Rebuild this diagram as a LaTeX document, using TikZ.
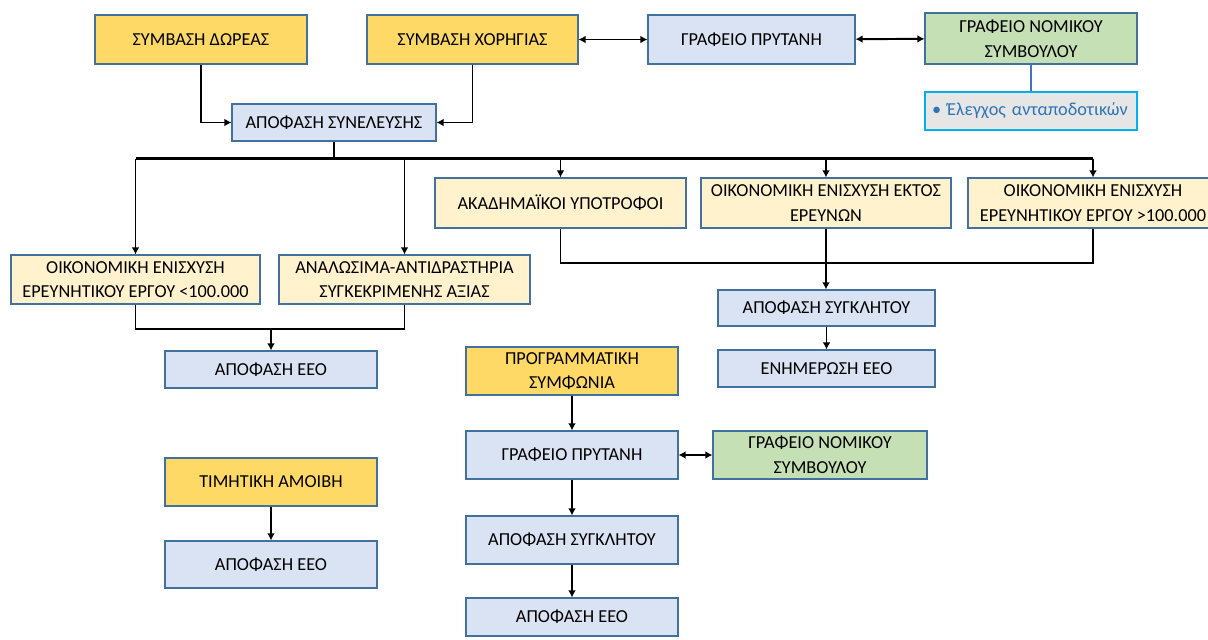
\documentclass[tikz,border=0pt]{standalone}
\usepackage{fontspec}
\setmainfont{Carlito}
\usetikzlibrary{arrows.meta,calc}
\definecolor{gold}{HTML}{FFD966}
\definecolor{paleblue}{HTML}{DAE3F3}
\definecolor{paleyellow}{HTML}{FFF2CC}
\definecolor{palegreen}{HTML}{C5E0B4}
\definecolor{rim}{HTML}{41719C}
\definecolor{cyanrim}{HTML}{00B0F0}
\definecolor{linkblue}{HTML}{4472C4}
\definecolor{notegrey}{HTML}{E7E6E6}
\definecolor{notetext}{HTML}{2E75B6}

\begin{document}
\begin{tikzpicture}[x=0.025cm,y=-0.025cm]

    \tikzset{
      box/.style 2 args={
        draw=rim,
        line width=0.8pt,
        align=center,
        inner sep=0pt,
        font=\fontsize{13}{17.5}\selectfont,
        minimum width=#1*0.025cm,
        minimum height=#2*0.025cm,
      },
      conn/.style={line width=1.4pt},
      arr/.style={conn,-{Latex[length=5pt,width=5.5pt]}},
      twoway/.style={conn,{Latex[length=5pt,width=5.5pt]}-{Latex[length=5pt,width=5.5pt]}},
    }
    \useasboundingbox (0,0) rectangle (1208,639);
    \clip (0,0) rectangle (1208,639);

    % top row
    \node[box={212}{49},fill=gold] (dorea) at (201,39.5) {ΣΥΜΒΑΣΗ ΔΩΡΕΑΣ};
    \node[box={211}{49},fill=gold] (xorigia) at (472.5,39.5) {ΣΥΜΒΑΣΗ ΧΟΡΗΓΙΑΣ};
    \node[box={207}{49},fill=paleblue] (prytanis) at (751.5,39.5) {ΓΡΑΦΕΙΟ ΠΡΥΤΑΝΗ};
    \node[box={212}{51},fill=palegreen] (nomikos) at (1031,38.5) {ΓΡΑΦΕΙΟ ΝΟΜΙΚΟΥ\\ΣΥΜΒΟΥΛΟΥ};
    \node[box={212}{38},fill=notegrey,draw=cyanrim,text=notetext,text width=198*0.025cm,align=left] (elegxos) at (1031,111) {\textbullet\ Έλεγχος ανταποδοτικών};
    \node[box={204}{37},fill=paleblue] (syneleysi) at (334,122.5) {ΑΠΟΦΑΣΗ ΣΥΝΕΛΕΥΣΗΣ};

    % second row
    \node[box={251}{50},fill=paleyellow] (akad) at (560.5,203) {ΑΚΑΔΗΜΑΪΚΟΙ ΥΠΟΤΡΟΦΟΙ};
    \node[box={250}{50},fill=paleyellow] (ektos) at (826,203) {ΟΙΚΟΝΟΜΙΚΗ ΕΝΙΣΧΥΣΗ ΕΚΤΟΣ\\ΕΡΕΥΝΩΝ};
    \node[box={250}{50},fill=paleyellow] (megalo) at (1093,203) {ΟΙΚΟΝΟΜΙΚΗ ΕΝΙΣΧΥΣΗ\\ΕΡΕΥΝΗΤΙΚΟΥ ΕΡΓΟΥ >100.000};
    \node[box={249}{49},fill=paleyellow] (mikro) at (135.5,279.5) {ΟΙΚΟΝΟΜΙΚΗ ΕΝΙΣΧΥΣΗ\\ΕΡΕΥΝΗΤΙΚΟΥ ΕΡΓΟΥ <100.000};
    \node[box={251}{49},fill=paleyellow] (analosima) at (404.5,279.5) {ΑΝΑΛΩΣΙΜΑ-ΑΝΤΙΔΡΑΣΤΗΡΙΑ\\ΣΥΓΚΕΚΡΙΜΕΝΗΣ ΑΞΙΑΣ};

    % decisions
    \node[box={212}{37},fill=paleblue] (eeoA) at (271,369.5) {ΑΠΟΦΑΣΗ ΕΕΟ};
    \node[box={217}{36},fill=paleblue] (synklitosA) at (826.5,308) {ΑΠΟΦΑΣΗ ΣΥΓΚΛΗΤΟΥ};
    \node[box={217}{37},fill=paleblue] (enimerosi) at (826.5,368.5) {ΕΝΗΜΕΡΩΣΗ ΕΕΟ};

    % middle column
    \node[box={212}{48},fill=gold] (programma) at (572,371) {ΠΡΟΓΡΑΜΜΑΤΙΚΗ\\ΣΥΜΦΩΝΙΑ};
    \node[box={212}{48},fill=paleblue] (prytanisB) at (572,455) {ΓΡΑΦΕΙΟ ΠΡΥΤΑΝΗ};
    \node[box={214}{48},fill=palegreen] (nomikosB) at (820,455) {ΓΡΑΦΕΙΟ ΝΟΜΙΚΟΥ\\ΣΥΜΒΟΥΛΟΥ};
    \node[box={212}{48},fill=paleblue] (synklitosB) at (572,540) {ΑΠΟΦΑΣΗ ΣΥΓΚΛΗΤΟΥ};
    \node[box={212}{38},fill=paleblue] (eeoC) at (572,617) {ΑΠΟΦΑΣΗ ΕΕΟ};

    % left column
    \node[box={212}{48},fill=gold] (timitiki) at (271,482) {ΤΙΜΗΤΙΚΗ ΑΜΟΙΒΗ};
    \node[box={212}{47},fill=paleblue] (eeoB) at (271,564.5) {ΑΠΟΦΑΣΗ ΕΕΟ};

    % connectors
    \draw[arr] (dorea.south) |- (syneleysi.west);
    \draw[arr] (xorigia.south) |- (syneleysi.east);
    \draw[twoway] (xorigia) -- (prytanis);
    \draw[twoway] (prytanis) -- (nomikos);
    \draw[linkblue,line width=1.3pt] (nomikos.south) -- (elegxos.north);

    \coordinate (bus) at ($(syneleysi.south)+(0,17)$);
    \draw[conn,line width=2pt] (syneleysi.south) -- (bus);
    \draw[conn,line width=2pt] (mikro.north |- bus) -- (megalo.north |- bus);
    \foreach \n in {mikro,analosima,akad,ektos,megalo}
      \draw[arr] (\n.north |- bus) -- (\n.north);

    \coordinate (joinR) at ($(ektos.south)+(0,34)$);
    \draw[conn] (akad.south) |- (megalo.south |- joinR) -- (megalo.south);
    \draw[arr,line width=2pt] (ektos.south) -- (ektos.south |- synklitosA.north);
    \draw[arr] (synklitosA) -- (enimerosi);

    \coordinate (joinL) at ($(mikro.south)+(0,24)$);
    \draw[conn] (mikro.south) |- (analosima.south |- joinL) -- (analosima.south);
    \draw[arr] (eeoA.north |- joinL) -- (eeoA.north);

    \draw[arr] (programma) -- (prytanisB);
    \draw[twoway] (prytanisB) -- (nomikosB);
    \draw[arr] (prytanisB) -- (synklitosB);
    \draw[arr] (synklitosB) -- (eeoC);
    \draw[arr] (timitiki) -- (eeoB);

\end{tikzpicture}
\end{document}
